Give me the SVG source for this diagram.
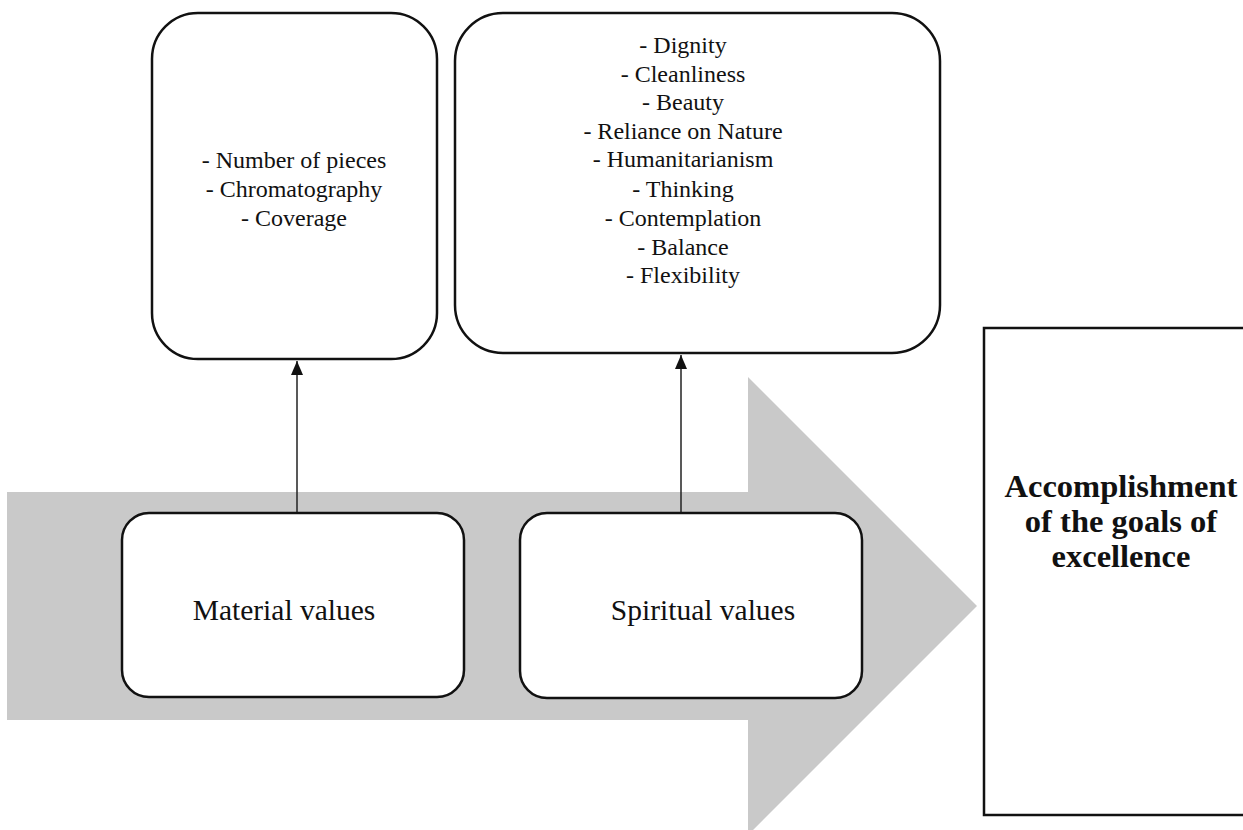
<svg xmlns="http://www.w3.org/2000/svg" width="1243" height="830" viewBox="0 0 1243 830">
<defs>
<style>
.box{fill:#ffffff;stroke:#111111;stroke-width:2.5}
.t{font-family:"Liberation Serif","Times New Roman",serif;fill:#111111;text-anchor:middle}
.s{font-size:24px}
.m{font-size:29.5px}
.b{font-size:32.5px;font-weight:bold}
.con{stroke:#222222;stroke-width:1.5;fill:none}
</style>
<marker id="ah" viewBox="0 0 14 12" refX="14" refY="6" markerWidth="14" markerHeight="12" markerUnits="userSpaceOnUse" orient="auto">
<path d="M0,0 L14,6 L0,12 z" fill="#111111"/>
</marker>
</defs>
<rect width="1243" height="830" fill="#ffffff"/>
<polygon id="flow-arrow" points="7,492 748,492 748,377 977,606 748,835 748,720 7,720" fill="#c9c9c9"/>
<g id="material-list">
<rect class="box" x="152" y="13" width="285" height="346" rx="46" ry="46"/>
<text class="t s" x="294" y="168">- Number of pieces</text>
<text class="t s" x="294" y="197">- Chromatography</text>
<text class="t s" x="294" y="226">- Coverage</text>
</g>
<g id="spiritual-list">
<rect class="box" x="455" y="13" width="485" height="340" rx="48" ry="48"/>
<text class="t s" x="683" y="53">- Dignity</text>
<text class="t s" x="683" y="82">- Cleanliness</text>
<text class="t s" x="683" y="110">- Beauty</text>
<text class="t s" x="683" y="139">- Reliance on Nature</text>
<text class="t s" x="683" y="167">- Humanitarianism</text>
<text class="t s" x="683" y="197">- Thinking</text>
<text class="t s" x="683" y="226">- Contemplation</text>
<text class="t s" x="683" y="255">- Balance</text>
<text class="t s" x="683" y="283">- Flexibility</text>
</g>
<g id="connectors">
<line class="con" x1="297" y1="513" x2="297" y2="361" marker-end="url(#ah)"/>
<line class="con" x1="681" y1="513" x2="681" y2="355" marker-end="url(#ah)"/>
</g>
<g id="material-values">
<rect class="box" x="122" y="513" width="342" height="184" rx="27" ry="27"/>
<text class="t m" x="284" y="620">Material values</text>
</g>
<g id="spiritual-values">
<rect class="box" x="520" y="513" width="342" height="185" rx="27" ry="27"/>
<text class="t m" x="703" y="620">Spiritual values</text>
</g>
<g id="goal">
<rect class="box" x="984" y="328" width="270" height="487"/>
<text class="t b" x="1121" y="497">Accomplishment</text>
<text class="t b" x="1121" y="532">of the goals of</text>
<text class="t b" x="1121" y="567">excellence</text>
</g>
</svg>
